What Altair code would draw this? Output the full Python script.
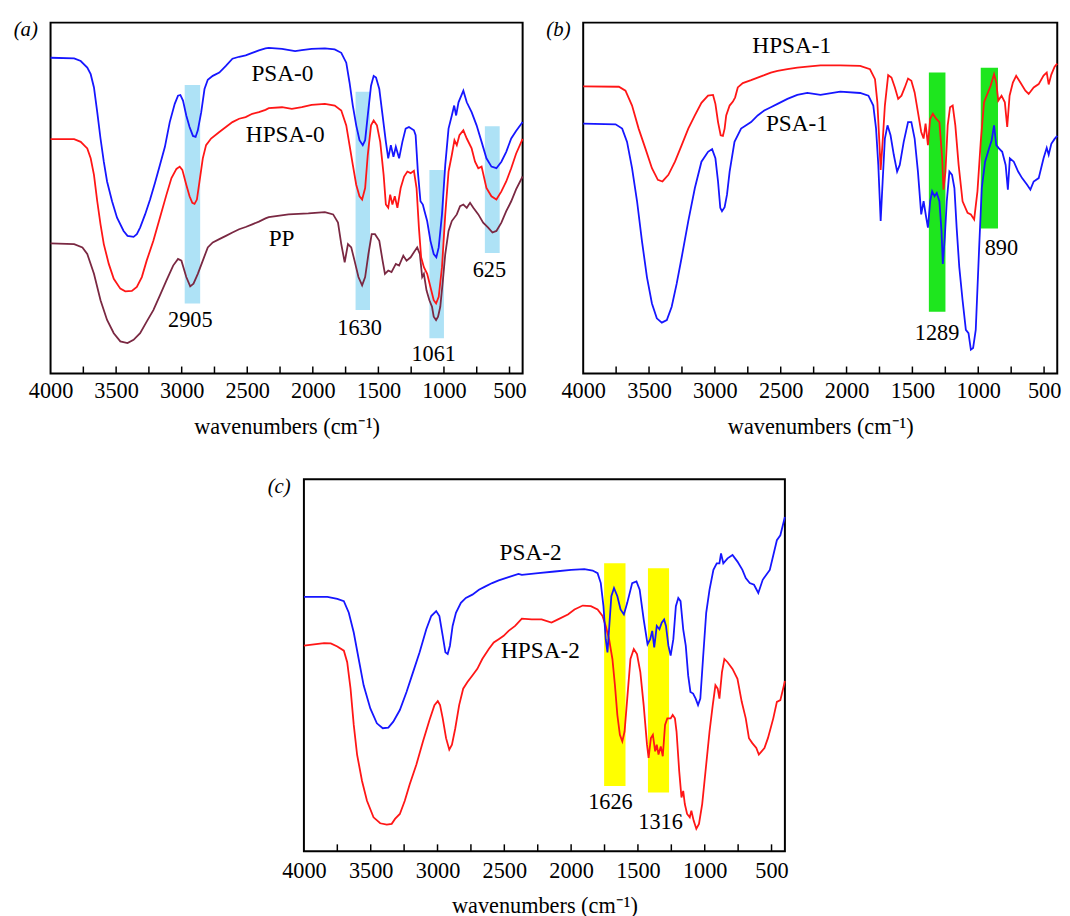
import altair as alt
import pandas as pd

FONT = "Liberation Serif"

# ---------------- axis values ----------------
major_ticks = [4000, 3500, 3000, 2500, 2000, 1500, 1000, 500]
minor_ticks = [3750, 3500, 3250, 3000, 2750, 2500, 2250, 2000, 1750, 1500, 1250, 1000, 750, 500]

# ---------------- panel (a) spectra: (wavenumber, transmittance a.u.) ----------------
a_psa0 = [(4000, 319), (3820, 318.4), (3770, 315.7), (3720, 309), (3694, 302.4), (3669, 289), (3644, 264),
          (3619, 237.4), (3594, 214), (3569, 194), (3531, 174), (3493, 157.4), (3443, 144), (3413, 139),
          (3367, 138), (3342, 140.7), (3317, 147.4), (3279, 160.7), (3241, 175.7), (3204, 192.4), (3166, 210.7),
          (3128, 229), (3091, 254), (3053, 272.4), (3028, 280.7), (3010, 281.4), (2990, 275.7), (2965, 260.7),
          (2940, 249), (2914, 240), (2894, 239), (2877, 245.7), (2851, 264), (2826, 287.4), (2801, 296.7),
          (2763, 300.7), (2713, 304), (2663, 310.7), (2613, 318), (2562, 320), (2512, 321.4), (2462, 324),
          (2411, 326.4), (2361, 328.4), (2336, 329), (2235, 328), (2135, 325.7), (2084, 326.7), (2009, 328),
          (1908, 328.4), (1833, 327.4), (1783, 324), (1745, 314), (1720, 294), (1695, 270.7), (1669, 250.7),
          (1644, 235.7), (1619, 230.7), (1601, 235.7), (1581, 260.7), (1556, 290.7), (1536, 300.7), (1518, 299),
          (1493, 287.4), (1468, 260.7), (1443, 234), (1425, 217.4), (1405, 230.7), (1385, 219), (1367, 229),
          (1342, 217.4), (1317, 234), (1292, 247.4), (1267, 249), (1229, 245.7), (1216, 240.7), (1199, 204),
          (1179, 174), (1161, 170.7), (1148, 164), (1128, 154), (1103, 134), (1078, 120.7), (1058, 117.4),
          (1040, 127.4), (1015, 160.7), (990, 210.7), (965, 247.4), (940, 260.7), (922, 270.7), (907, 260.7),
          (889, 274), (852, 285.7), (826, 274), (789, 264), (751, 250.7), (713, 234), (676, 217.4), (638, 209),
          (600, 207.4), (562, 214), (525, 224), (487, 237.4), (450, 245), (400, 254)]

a_hpsa0 = [(4000, 236.7), (3820, 236.7), (3770, 234), (3720, 227.4), (3694, 217.4), (3669, 200.7), (3644, 174),
           (3619, 150.7), (3594, 130.7), (3556, 110.7), (3518, 95.7), (3468, 85.7), (3430, 83), (3380, 83.4),
           (3342, 87.4), (3304, 97.4), (3267, 114), (3216, 134), (3166, 157.4), (3116, 180.7), (3078, 197.4),
           (3040, 206.7), (3015, 209), (2995, 205.7), (2965, 190.7), (2940, 179), (2919, 172.4), (2902, 171.4),
           (2884, 175.7), (2864, 194), (2839, 217.4), (2814, 230.7), (2776, 237.4), (2713, 244), (2663, 249),
           (2613, 254), (2562, 257.4), (2512, 259), (2462, 262.4), (2411, 264), (2361, 266.4), (2336, 268),
           (2235, 269), (2160, 267.4), (2084, 269), (2009, 271.4), (1908, 272.4), (1833, 270.7), (1783, 265.7),
           (1745, 250.7), (1720, 230.7), (1695, 210.7), (1669, 190.7), (1644, 179), (1624, 175.7), (1601, 187.4),
           (1581, 220.7), (1556, 250.7), (1536, 255.7), (1511, 250.7), (1486, 234), (1460, 200.7), (1443, 170.7),
           (1425, 167.4), (1410, 180.7), (1393, 170.7), (1375, 179), (1355, 167.4), (1330, 187.4), (1304, 199),
           (1279, 204), (1254, 202.4), (1229, 204.7), (1209, 187.4), (1191, 147.4), (1174, 117.4), (1153, 107.4),
           (1128, 100.7), (1103, 87.4), (1078, 74), (1060, 70.7), (1040, 77.4), (1015, 107.4), (990, 160.7),
           (965, 204), (940, 220.7), (920, 235.7), (902, 230.7), (882, 240.7), (852, 245.7), (826, 237.4),
           (789, 227.4), (763, 214), (738, 207.4), (713, 209), (676, 187.4), (638, 179), (600, 175.7), (562, 184),
           (525, 194), (487, 207.4), (450, 222), (400, 237)]

a_pp = [(4000, 131.4), (3820, 130.7), (3757, 127.4), (3720, 120.7), (3669, 100.7), (3619, 74), (3569, 54),
        (3518, 40.7), (3468, 32.4), (3413, 30.7), (3367, 34), (3317, 40.7), (3267, 52.4), (3216, 64), (3166, 79),
        (3116, 94), (3065, 109), (3028, 115.7), (3002, 114), (2965, 97.4), (2935, 88), (2910, 90.7), (2877, 100.7),
        (2839, 114), (2801, 127.4), (2763, 132.4), (2713, 135.7), (2663, 139), (2613, 142.4), (2562, 145.7),
        (2512, 148), (2462, 150.7), (2411, 153.4), (2361, 156.7), (2336, 158), (2185, 160.7), (2034, 161.7),
        (1908, 163), (1845, 160.7), (1808, 152.4), (1783, 130.7), (1757, 112.4), (1732, 130.7), (1707, 127.4),
        (1682, 114), (1652, 97.4), (1624, 89), (1601, 97.4), (1576, 120.7), (1551, 140.7), (1526, 140.7),
        (1493, 134), (1468, 114), (1450, 100.7), (1425, 104), (1400, 102.4), (1367, 110.7), (1342, 109),
        (1310, 119), (1285, 114), (1254, 117.4), (1229, 122.4), (1204, 127.4), (1184, 120.7), (1166, 97.4),
        (1153, 100.7), (1133, 84), (1111, 74), (1091, 67.4), (1078, 57.4), (1060, 54), (1045, 57.4), (1028, 67.4),
        (1008, 94), (990, 120.7), (965, 144), (940, 154), (902, 160.7), (877, 169), (852, 170.7), (826, 167.4),
        (801, 172.4), (776, 167.4), (738, 160.7), (701, 152.4), (663, 147.4), (630, 142.4), (600, 144),
        (562, 152.4), (525, 164), (487, 174), (450, 186), (400, 199)]

# ---------------- panel (b) ----------------
b_hpsa1 = [(4000, 290), (3729, 289.7), (3679, 285.7), (3629, 270.7), (3579, 247.4), (3528, 227.4), (3478, 207.4),
           (3433, 195.7), (3398, 194), (3353, 200.7), (3303, 214), (3252, 230.7), (3202, 247.4), (3152, 260.7),
           (3102, 273.4), (3052, 280.7), (3014, 281.4), (2996, 272.4), (2976, 254), (2956, 240.7), (2939, 240),
           (2926, 247.4), (2914, 260.7), (2888, 270.7), (2863, 274.7), (2846, 279), (2826, 289), (2788, 293.4),
           (2725, 296.4), (2675, 299), (2625, 301.4), (2575, 304), (2524, 305.7), (2449, 307.4), (2374, 309),
           (2298, 310), (2198, 311.4), (2048, 311.4), (1897, 310.7), (1822, 307.4), (1784, 297.4), (1766, 274),
           (1751, 234), (1741, 205.7), (1726, 234), (1709, 270.7), (1684, 301.4), (1659, 299), (1633, 289),
           (1608, 277.4), (1583, 280.7), (1558, 289), (1533, 298), (1508, 295.7), (1483, 284), (1458, 264),
           (1433, 244), (1415, 237.4), (1400, 252.4), (1382, 230.7), (1365, 257.4), (1345, 262.4), (1320, 257.4),
           (1295, 254), (1274, 217.4), (1264, 185.7), (1249, 204), (1232, 250.7), (1214, 269), (1194, 270.7),
           (1174, 250.7), (1149, 210.7), (1119, 174), (1081, 162.4), (1056, 160.7), (1031, 155.7), (1006, 184),
           (981, 234), (956, 274), (931, 282.4), (906, 290.7), (880, 302.4), (863, 294), (848, 275.7), (823, 280.7),
           (798, 274), (780, 249), (762, 280.7), (737, 294), (712, 300.7), (680, 294), (642, 285.7), (617, 282.4),
           (579, 289), (541, 292.4), (504, 301), (480, 304), (465, 292), (445, 302), (420, 310), (400, 313)]

b_psa1 = [(4000, 252.4), (3754, 251.7), (3704, 247.4), (3667, 234), (3629, 207.4), (3591, 174), (3554, 134),
          (3516, 97.4), (3478, 70.7), (3441, 55.7), (3403, 51.4), (3365, 54), (3328, 67.4), (3290, 90.7),
          (3252, 117.4), (3202, 154), (3152, 187.4), (3102, 214), (3052, 224), (3021, 226.7), (2996, 217.4),
          (2976, 194), (2959, 167.4), (2946, 164), (2926, 168), (2908, 180.7), (2888, 204), (2851, 234),
          (2801, 247.4), (2725, 254), (2675, 260.7), (2625, 265.7), (2575, 269), (2524, 272.4), (2449, 277.4),
          (2374, 281.4), (2298, 283.4), (2198, 281.4), (2048, 284.7), (1897, 283.4), (1834, 280.7), (1797, 270.7),
          (1776, 247.4), (1759, 210.7), (1741, 154), (1726, 194), (1709, 237.4), (1689, 250.7), (1666, 240.7),
          (1641, 220.7), (1616, 204), (1596, 210.7), (1566, 234), (1533, 254), (1508, 254), (1483, 237.4),
          (1458, 204), (1433, 160.7), (1415, 174), (1395, 157.4), (1382, 147.4), (1365, 174), (1350, 184),
          (1332, 179), (1315, 182.4), (1295, 174), (1279, 144), (1269, 110.7), (1254, 137.4), (1239, 174),
          (1219, 204), (1199, 200.7), (1181, 187.4), (1164, 147.4), (1144, 107.4), (1119, 74), (1094, 44),
          (1074, 40.7), (1056, 24), (1039, 25.7), (1019, 44), (993, 127.4), (973, 187.4), (948, 214), (918, 227.4),
          (898, 235.7), (880, 250.7), (863, 230.7), (843, 227.4), (818, 224), (792, 210.7), (775, 185.7),
          (760, 217.4), (730, 214), (697, 204), (667, 197.4), (629, 190.7), (604, 185.7), (579, 194), (541, 197.4),
          (504, 217.4), (480, 228), (465, 221), (445, 232), (420, 237), (400, 240)]

# ---------------- panel (c) ----------------
c_psa2 = [(4000, 257), (3824, 257), (3750, 255), (3701, 252.7), (3664, 241), (3627, 221), (3590, 194.3),
          (3553, 167.7), (3503, 144.3), (3454, 129.3), (3410, 124.3), (3368, 125), (3331, 131), (3282, 142.7),
          (3232, 161), (3183, 181), (3134, 201), (3084, 224.3), (3047, 237.7), (3010, 242.7), (2986, 237.7),
          (2961, 217.7), (2941, 201), (2924, 199.3), (2907, 207.7), (2887, 227.7), (2862, 241), (2825, 251),
          (2788, 256), (2739, 259.3), (2690, 264.3), (2641, 267.7), (2591, 271), (2542, 273.7), (2468, 277),
          (2394, 280.3), (2369, 279.3), (2246, 281), (2123, 282.7), (2000, 284.3), (1901, 285), (1839, 283.7),
          (1802, 281), (1778, 271), (1758, 247.7), (1741, 214.3), (1728, 201), (1716, 224.3), (1699, 257.7),
          (1679, 266), (1654, 257.7), (1630, 244.3), (1605, 239.3), (1580, 251), (1543, 271), (1511, 272.7),
          (1487, 264.3), (1457, 234.3), (1428, 209.3), (1408, 214.3), (1393, 222.7), (1378, 206), (1359, 227.7),
          (1339, 224.3), (1322, 231), (1304, 234.3), (1290, 227.7), (1272, 207.7), (1255, 197.7), (1235, 214.3),
          (1216, 247.7), (1198, 256), (1181, 252.7), (1161, 224.3), (1142, 207.7), (1124, 177.7), (1107, 161),
          (1087, 159.3), (1068, 154.3), (1050, 147.7), (1033, 154.3), (1013, 194.3), (989, 241), (964, 264.3),
          (935, 284.3), (910, 291), (890, 291), (878, 301), (861, 291), (829, 296), (792, 299.3), (755, 292.7),
          (718, 284.3), (693, 276), (663, 271), (631, 269.3), (599, 261), (566, 274.3), (513, 284.3), (460, 314.3),
          (434, 319.3), (400, 337.7)]

c_hpsa2 = [(4000, 207.7), (3849, 210.3), (3799, 210), (3750, 207), (3701, 202.7), (3676, 191), (3651, 164.3),
           (3627, 127.7), (3602, 97.7), (3565, 71), (3528, 51), (3479, 34.3), (3429, 28.3), (3380, 27),
           (3343, 27.7), (3318, 32.7), (3282, 37.7), (3245, 51), (3208, 67.7), (3158, 87.7), (3109, 111),
           (3060, 132.7), (3023, 147.7), (2998, 151.7), (2981, 147.7), (2961, 134.3), (2936, 114.3), (2912, 102.7),
           (2892, 107.7), (2867, 124.3), (2838, 147.7), (2808, 164.3), (2776, 171), (2739, 177.7), (2702, 184.3),
           (2665, 194.3), (2616, 204.3), (2579, 211), (2542, 214.3), (2505, 217.7), (2468, 222.7), (2419, 227.7),
           (2369, 235), (2295, 234.3), (2221, 234.3), (2147, 231), (2098, 234.3), (2024, 239.3), (1975, 244.3),
           (1913, 248.3), (1852, 247.7), (1802, 244.3), (1765, 237.7), (1741, 227.7), (1716, 214.3), (1691, 194.3),
           (1672, 167.7), (1654, 137.7), (1635, 117.7), (1617, 111), (1600, 121), (1580, 154.3), (1556, 194.3),
           (1531, 204.3), (1507, 199.3), (1482, 181), (1457, 147.7), (1432, 107.7), (1420, 94.3), (1403, 114.3),
           (1388, 117.7), (1371, 101), (1359, 107.7), (1346, 97.7), (1329, 106), (1314, 96), (1297, 127.7),
           (1280, 134.3), (1255, 134.3), (1240, 137.7), (1223, 134.3), (1211, 121), (1191, 81), (1174, 54.3),
           (1161, 61), (1149, 47.7), (1132, 37.7), (1112, 34.3), (1100, 41), (1083, 31), (1063, 22.7), (1043, 27.7),
           (1019, 47.7), (989, 87.7), (964, 121), (940, 147.7), (920, 167.7), (903, 164.3), (890, 154.3),
           (871, 181), (853, 194.3), (829, 191), (792, 184.3), (755, 174.3), (723, 151), (693, 134.3), (669, 114.3),
           (644, 109.3), (614, 104.3), (595, 97.7), (553, 104.3), (527, 114.3), (487, 134.3), (460, 151),
           (434, 152.7), (407, 167.7), (400, 172)]

# ---------------- highlight bands: (wn_from, wn_to, low, high) ----------------
a_bands = [(2977, 2859, 70.7, 291.4), (1674, 1564, 64, 284.7), (1111, 1000, 35.7, 205.7), (688, 575, 121.7, 249.7)]
b_bands = [(1375, 1249, 62.4, 304), (981, 850, 146.4, 309)]
c_bands = [(1753, 1593, 66, 291), (1425, 1267, 59.3, 286)]

# ---------------- text labels: (text, wn, value, font size) ----------------
a_labels = [("PSA-0", 2232, 303, 23.5), ("HPSA-0", 2210, 240.7, 23.5), ("PP", 2238, 135.7, 23.5),
            ("2905", 2934, 54, 22.5), ("1630", 1644, 45.7, 22.5), ("1061", 1078, 19.9, 22.5),
            ("625", 654, 104.9, 22.5)]
b_labels = [("HPSA-1", 2416, 330.7, 23.5), ("PSA-1", 2377, 252.4, 23.5),
            ("1289", 1313, 40.7, 22.5), ("890", 824, 126.7, 22.5)]
c_labels = [("PSA-2", 2303, 301, 23.5), ("HPSA-2", 2230, 202.7, 23.5),
            ("1626", 1706, 49.3, 22.5), ("1316", 1331, 29.3, 22.5)]

BLUE = "#1616ff"
RED = "#ff1616"
MAROON = "#7a2842"


def panel(series, bands, band_color, labels, letter, W, H, label_pad, title_y, anchor):
    xs = alt.Scale(domain=[400, 4000], reverse=True, nice=False, zero=False)
    ys = alt.Scale(domain=[0, H], nice=False, zero=False)
    xaxis = alt.Axis(values=major_ticks, format="d", labelFlush=False, labelOverlap=False,
                     ticks=False, tickSize=0, domain=False, grid=False,
                     labelFont=FONT, labelFontSize=22.5, labelColor="black",
                     labelPadding=label_pad, labelBaseline="middle",
                     title="wavenumbers (cm\u207b\u00b9)", titleFont=FONT, titleFontSize=22.5,
                     titleFontWeight="normal", titleColor="black", titleY=title_y,
                     titleBaseline="middle")

    def X(field):
        return alt.X(field, type="quantitative", scale=xs, axis=xaxis)

    def Y(field):
        return alt.Y(field, type="quantitative", scale=ys, axis=None)

    bdf = pd.DataFrame(bands, columns=["wn", "wn2", "t", "t2"])
    layers = [alt.Chart(bdf).mark_rect(color=band_color, opacity=1).encode(
        x=X("wn"), x2="wn2", y=Y("t"), y2="t2")]
    for pts, color in series:
        df = pd.DataFrame(pts, columns=["wn", "t"])
        layers.append(alt.Chart(df).mark_line(color=color, strokeWidth=1.8).encode(
            x=X("wn"), y=Y("t")))
    tdf = pd.DataFrame({"wn": minor_ticks})
    layers.append(alt.Chart(tdf).mark_rule(color="black", strokeWidth=1.5).encode(
        x=X("wn"), y=alt.value(H), y2=alt.value(H - 7)))
    ldf = pd.DataFrame(labels, columns=["label", "wn", "t", "fs"])
    layers.append(alt.Chart(ldf).mark_text(font=FONT, color="black", align="center",
                                           baseline="middle").encode(
        x=X("wn"), y=Y("t"), text="label:N", size=alt.Size("fs:Q", scale=None)))
    layers.append(alt.Chart(pd.DataFrame({"s": [letter]})).mark_text(
        font=FONT, fontSize=21, fontStyle="italic", color="black", align="center",
        baseline="middle").encode(x=alt.value(-25), y=alt.value(8), text="s:N"))
    x1, x2, y1, y2 = anchor
    layers.append(alt.Chart(pd.DataFrame({"k": [0]})).mark_rule(opacity=0, strokeOpacity=0).encode(
        x=alt.value(x1), x2=alt.value(x2), y=alt.value(y1), y2=alt.value(y2)))
    return alt.layer(*layers).properties(width=W, height=H)


Wa, Ha = 477, 354.5
Wb, Hb = 479, 354.5
Wc, Hc = 486, 376
SPACER_W = 215

pa = panel([(a_pp, MAROON), (a_hpsa0, RED), (a_psa0, BLUE)], a_bands, "#aee2f6", a_labels, "(a)",
           Wa, Ha, 17.8, 54, (-41.5, Wa + 8, -8.2, Ha + 85))
pb = panel([(b_hpsa1, RED), (b_psa1, BLUE)], b_bands, "#1ee61e", b_labels, "(b)",
           Wb, Hb, 17.8, 54, (-45, Wb + 2, -8.2, Hb + 85))
pc = panel([(c_hpsa2, RED), (c_psa2, BLUE)], c_bands, "#ffff00", c_labels, "(c)",
           Wc, Hc, 19.8, 55, (-40, Wc + 10, -12, Hc + 40))

spacer = alt.Chart(pd.DataFrame({"k": [0]})).mark_rule(opacity=0, strokeOpacity=0).encode(
    x=alt.value(0), x2=alt.value(SPACER_W), y=alt.value(0), y2=alt.value(1)
).properties(width=SPACER_W, height=1, view=alt.ViewBackground(strokeOpacity=0, strokeWidth=0))

top = alt.hconcat(pa, pb, spacing=6.2)
bottom = alt.hconcat(spacer, pc, spacing=0)
chart = alt.vconcat(top, bottom, spacing=7.3, padding=0).configure_view(
    stroke="black", strokeWidth=2)

chart.save("out.html", embed_options={"renderer": "svg", "actions": False})
